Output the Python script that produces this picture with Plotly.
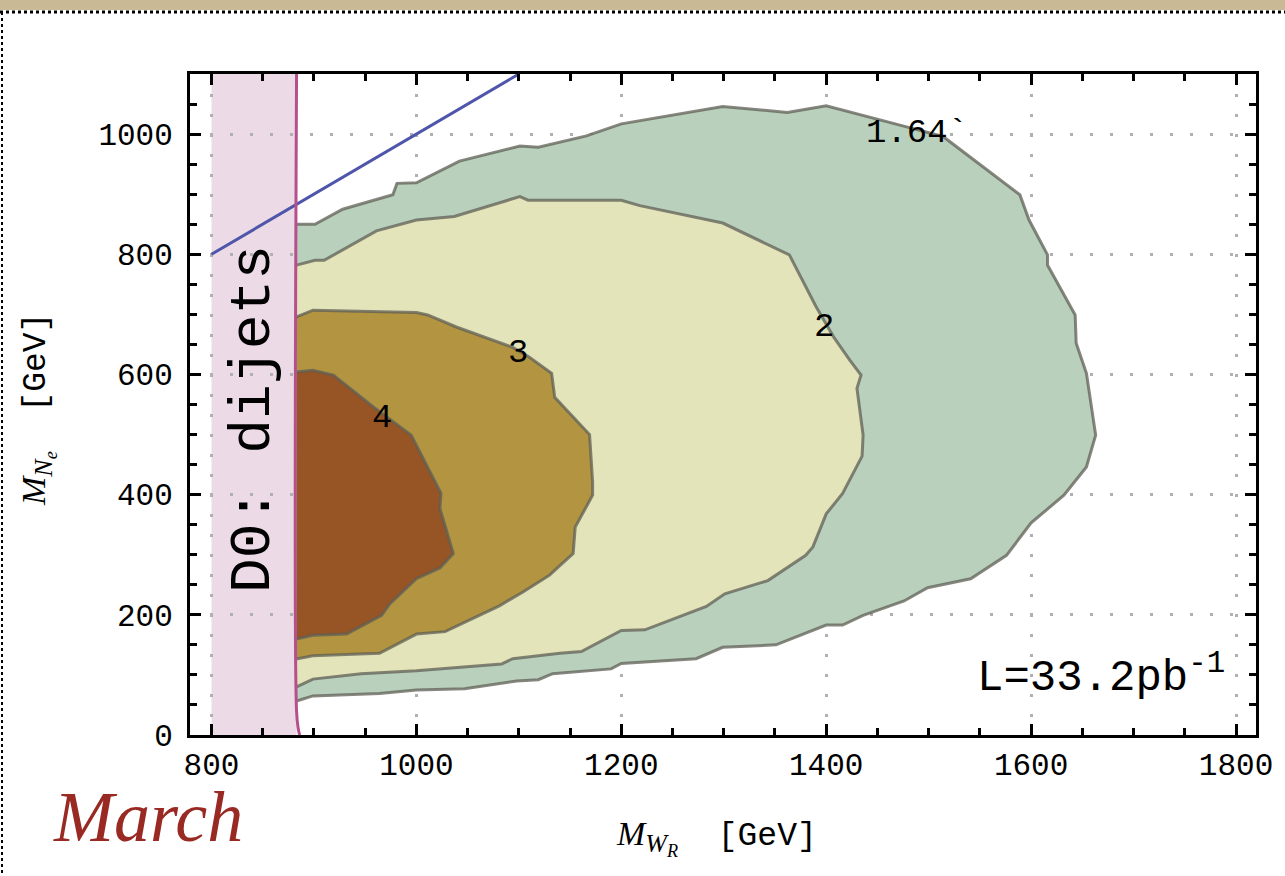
import plotly.graph_objects as go

# ---- data -------------------------------------------------------------
dijet_limit = 883                      # D0 dijet exclusion on M_WR [GeV]
band_left = 800
line_x = [800, 1100]                   # M_N = M_WR boundary
line_y = [800, 1100]

# significance contours (M_WR, M_Ne) in GeV
c164_x = [883, 901, 928, 977, 981, 1000, 1042, 1101, 1119, 1166, 1200, 1299, 1362, 1400,
          1472, 1514, 1589, 1598, 1616, 1616, 1643, 1644, 1654, 1663, 1654, 1632, 1600,
          1576, 1541, 1499, 1476, 1436, 1416, 1400, 1351, 1299, 1273, 1200, 1190, 1140,
          1133, 1119, 1098, 1047, 1000, 964, 899, 884, 883]
c164_y = [850, 850, 875, 899, 918, 919, 955, 980, 978, 997, 1017, 1046, 1036, 1047,
          1015, 996, 899, 857, 799, 782, 699, 652, 602, 499, 446, 399, 353,
          299, 260, 245, 223, 199, 183, 183, 150, 146, 127, 119, 110, 102,
          102, 92, 90, 77, 75, 69, 65, 57, 57]

c2_x = [883, 901, 910, 961, 1000, 1037, 1101, 1109, 1200, 1218, 1299, 1364, 1390, 1407,
        1423, 1434, 1430, 1436, 1435, 1416, 1400, 1387, 1380, 1343, 1301, 1283, 1223,
        1200, 1161, 1140, 1094, 1083, 1000, 946, 899, 884, 883]
c2_y = [782, 790, 790, 839, 857, 863, 896, 890, 890, 881, 852, 799, 713, 663,
        624, 599, 577, 499, 464, 402, 368, 313, 299, 257, 235, 214, 175,
        174, 139, 136, 127, 118, 107, 102, 93, 80, 80]

c3_x = [883, 899, 1000, 1011, 1039, 1094, 1110, 1132, 1135, 1169, 1172, 1172, 1155, 1153,
        1140, 1130, 1104, 1081, 1028, 1000, 964, 899, 884, 883]
c3_y = [696, 707, 703, 699, 679, 645, 629, 602, 562, 500, 421, 399, 346, 302,
        282, 266, 238, 215, 172, 168, 136, 132, 127, 127]

c4_x = [883, 899, 919, 958, 995, 1024, 1023, 1036, 1023, 1000, 974, 966, 932, 899, 884, 883]
c4_y = [604, 607, 599, 546, 499, 402, 377, 302, 278, 260, 218, 199, 168, 166, 160, 160]

contours = [
    (c164_x, c164_y, "#b9d0bc"),
    (c2_x, c2_y, "#e4e4bb"),
    (c3_x, c3_y, "#b39541"),
    (c4_x, c4_y, "#975424"),
]

labels = [("1.64`", 1489, 1002), ("2", 1398, 679), ("3", 1099, 636), ("4", 966, 527)]

x_range = [779, 1819.5]
y_range = [0, 1100]

# ---- layout geometry (pixels) ------------------------------------------
W, H = 1285, 876
ML, MR, MT, MB = 190, 29, 74, 141
PW, PH = W - ML - MR, H - MT - MB


def px_x(p):
    return (p - ML) / PW


def px_y(p):
    return (H - MB - p) / PH


MONO = "Liberation Mono"
SERIF = "Liberation Serif"

fig = go.Figure()

for cx, cy, col in contours:
    fig.add_trace(go.Scatter(
        x=cx, y=cy, mode="lines", fill="toself", fillcolor=col,
        line=dict(color="rgba(95,95,85,0.75)", width=3),
        hoverinfo="skip", showlegend=False))

# M_N = M_WR line
fig.add_trace(go.Scatter(x=line_x, y=line_y, mode="lines",
                         line=dict(color="#4e55aa", width=3),
                         hoverinfo="skip", showlegend=False))

# dijet exclusion edge
fig.add_trace(go.Scatter(x=[dijet_limit, dijet_limit, dijet_limit + 1.5, dijet_limit + 3],
                         y=[y_range[1], 40, 12, 0], mode="lines",
                         line=dict(color="#b5508d", width=3, shape="spline"),
                         hoverinfo="skip", showlegend=False))

# excluded band
fig.add_shape(type="rect", xref="x", yref="y", x0=band_left, x1=dijet_limit,
              y0=y_range[0], y1=y_range[1], fillcolor="#ecdbe6", line_width=0,
              layer="below")

# slide decorations around the chart
fig.add_shape(type="rect", xref="paper", yref="paper", x0=px_x(0), x1=px_x(W),
              y0=px_y(0), y1=px_y(10), fillcolor="#c9b995", line_width=0)
fig.add_shape(type="line", xref="paper", yref="paper", x0=px_x(0), x1=px_x(W),
              y0=px_y(12), y1=px_y(12), line=dict(color="black", width=3, dash="dot"))
fig.add_shape(type="line", xref="paper", yref="paper", x0=px_x(2), x1=px_x(2),
              y0=px_y(12), y1=px_y(H), line=dict(color="black", width=2, dash="dot"))

for txt, lx, ly in labels:
    fig.add_annotation(x=lx, y=ly, text=txt, showarrow=False,
                       font=dict(family=MONO, size=34, color="black"))

fig.add_annotation(x=(band_left + dijet_limit) / 2, y=526, text="D0: dijets",
                   textangle=-90, showarrow=False,
                   font=dict(family=MONO, size=58, color="black"))

fig.add_annotation(x=1791, y=100, text="L=33.2pb<sup>-1</sup>", xanchor="right",
                   showarrow=False, font=dict(family=MONO, size=44, color="black"))

# axis titles
M_STYLE = "font-family:Liberation Serif;font-size:34px"
SUB_STYLE = "font-family:Liberation Serif;font-size:26px"
fig.add_annotation(xref="paper", yref="paper", x=px_x(716), y=px_y(838),
                   xanchor="center", yanchor="middle",
                   text=f"<span style='{M_STYLE}'><i>M</i></span>"
                        f"<sub><span style='{SUB_STYLE}'><i>W<sub>R</sub></i></span></sub>"
                        "  [GeV]",
                   showarrow=False, font=dict(family=MONO, size=33, color="black"))
fig.add_annotation(xref="paper", yref="paper", x=px_x(38), y=px_y(410),
                   xanchor="center", yanchor="middle",
                   text=f"<span style='{M_STYLE}'><i>M</i></span>"
                        f"<sub><span style='{SUB_STYLE}'><i>N<sub>e</sub></i></span></sub>"
                        "  [GeV]",
                   textangle=-90, showarrow=False,
                   font=dict(family=MONO, size=33, color="black"))

fig.add_annotation(xref="paper", yref="paper", x=px_x(148), y=px_y(817), text="March",
                   xanchor="center", yanchor="middle", showarrow=False,
                   font=dict(family=SERIF, size=72, color="#992a23", style="italic"))

axis_common = dict(
    showline=True, linecolor="black", linewidth=3, mirror="allticks",
    ticks="inside", ticklen=11, tickwidth=3, tickcolor="black",
    showgrid=True, gridcolor="#b0b0b0", gridwidth=3, griddash="3px,17px",
    zeroline=False, tickfont=dict(family=MONO, size=31, color="black"),
    minor=dict(ticks="inside", ticklen=7, tickwidth=3, tickcolor="black",
               dtick=50, showgrid=False),
)

fig.update_xaxes(range=x_range, tick0=800, dtick=200, ticklabelstandoff=0, **axis_common)
fig.update_yaxes(range=y_range, tick0=0, dtick=200, ticklabelstandoff=8, **axis_common)

fig.update_layout(
    width=W, height=H,
    margin=dict(l=ML, r=MR, t=MT, b=MB),
    paper_bgcolor="white", plot_bgcolor="white",
    showlegend=False,
)

fig.write_html("out.html")
